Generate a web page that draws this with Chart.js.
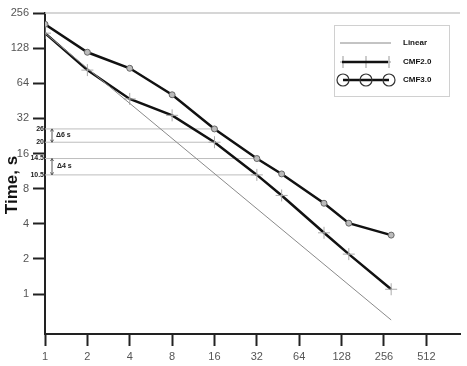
<!DOCTYPE html>
<html>
<head>
<meta charset="utf-8">
<script src="https://cdn.jsdelivr.net/npm/chart.js@4.4.1/dist/chart.umd.min.js"></script>
<style>
html, body { margin: 0; padding: 0; background: #fff; }
#wrap { width: 467px; height: 366px; }
</style>
</head>
<body>
<div id="wrap"><canvas id="myChart"></canvas></div>
<script>
"use strict";

// number of cores (x) and run times in seconds (y)
var cores = [1, 2, 4, 8, 16, 32, 48, 96, 144, 288];
var cmf2 = [172, 83, 47, 34, 20, 10.5, 7, 3.35, 2.2, 1.1];
var cmf3 = [205, 118, 86, 51, 26, 14.5, 10.7, 6, 4.05, 3.2];
var linearX = [1, 288];
var linearY = [172, 0.6];

var xTicks = [1, 2, 4, 8, 16, 32, 64, 128, 256, 512];
var yTicks = [1, 2, 4, 8, 16, 32, 64, 128, 256];

// helper lines for the time differences
var markLevels = [26, 20, 14.5, 10.5];
var markAt = [16, 16, 32, 32];
var deltaLabels = ["\u03946 s", "\u03944 s"];

var FONT = "'Liberation Sans', Arial, sans-serif";

function toPoints(xs, ys) {
    return xs.map(function(x, i){ return { x: x, y: ys[i] }; });
}

var extras = {
    id: 'extras',
    beforeDatasetsDraw: function(chart) {
        var ctx = chart.ctx, a = chart.chartArea;
        var sx = chart.scales.x, sy = chart.scales.y;
        ctx.save();
        // top frame line
        ctx.strokeStyle = '#c8c8c8';
        ctx.lineWidth = 1.5;
        ctx.beginPath();
        ctx.moveTo(a.left, a.top);
        ctx.lineTo(a.right, a.top);
        ctx.stroke();

        // level lines and their labels
        ctx.lineWidth = 1;
        ctx.strokeStyle = '#bdbdbd';
        ctx.fillStyle = '#222';
        ctx.font = 'bold 7px ' + FONT;
        ctx.textAlign = 'right';
        ctx.textBaseline = 'middle';
        markLevels.forEach(function(v, i){
            var y = sy.getPixelForValue(v);
            ctx.beginPath();
            ctx.moveTo(a.left, y);
            ctx.lineTo(sx.getPixelForValue(markAt[i]), y);
            ctx.stroke();
            ctx.fillText(String(v), a.left - 1, y);
        });

        // delta arrows
        ctx.strokeStyle = '#555';
        ctx.textAlign = 'left';
        for (var k = 0; k < 2; k++) {
            var y0 = sy.getPixelForValue(markLevels[k * 2]);
            var y1 = sy.getPixelForValue(markLevels[k * 2 + 1]);
            var ax = a.left + 7;
            ctx.beginPath();
            ctx.moveTo(ax, y0);
            ctx.lineTo(ax, y1);
            ctx.moveTo(ax - 1.5, y0 + 2.5); ctx.lineTo(ax, y0); ctx.lineTo(ax + 1.5, y0 + 2.5);
            ctx.moveTo(ax - 1.5, y1 - 2.5); ctx.lineTo(ax, y1); ctx.lineTo(ax + 1.5, y1 - 2.5);
            ctx.stroke();
            ctx.fillText(deltaLabels[k], ax + 4 + k, (y0 + y1) / 2 - 1);
        }

        // y axis title, a bit below the middle like the original
        ctx.translate(12, 185);
        ctx.rotate(-Math.PI / 2);
        ctx.textAlign = 'center';
        ctx.fillStyle = '#111';
        ctx.font = 'bold 17px ' + FONT;
        ctx.fillText('Time, s', 0, 0);
        ctx.restore();
    },
    afterDraw: function(chart) {
        var ctx = chart.ctx, a = chart.chartArea;
        var bx = a.right - 126, by = a.top + 12;
        ctx.save();
        ctx.fillStyle = '#fff';
        ctx.strokeStyle = '#d0d0d0';
        ctx.lineWidth = 1;
        ctx.fillRect(bx, by, 115, 71);
        ctx.strokeRect(bx + 0.5, by + 0.5, 115, 71);

        var x0 = bx + 6, x1 = bx + 57;
        var rows = [by + 18, by + 37, by + 55];
        ctx.lineCap = 'butt';

        // Linear
        ctx.strokeStyle = '#888';
        ctx.lineWidth = 1;
        ctx.beginPath(); ctx.moveTo(x0, rows[0]); ctx.lineTo(x1, rows[0]); ctx.stroke();

        // CMF2.0
        ctx.strokeStyle = '#999';
        ctx.beginPath();
        [x0 + 3, x0 + 26, x0 + 49].forEach(function(px){
            ctx.moveTo(px, rows[1] - 6); ctx.lineTo(px, rows[1] + 6);
        });
        ctx.moveTo(x0, rows[1]); ctx.lineTo(x1, rows[1]);
        ctx.stroke();
        ctx.strokeStyle = '#111';
        ctx.lineWidth = 2.5;
        ctx.beginPath(); ctx.moveTo(x0 + 2, rows[1]); ctx.lineTo(x1 - 3, rows[1]); ctx.stroke();

        // CMF3.0
        ctx.lineWidth = 2.5;
        ctx.beginPath(); ctx.moveTo(x0 + 3, rows[2]); ctx.lineTo(x0 + 49, rows[2]); ctx.stroke();
        ctx.strokeStyle = '#333';
        ctx.lineWidth = 1.2;
        [x0 + 3, x0 + 26, x0 + 49].forEach(function(px){
            ctx.beginPath(); ctx.arc(px, rows[2], 6, 0, Math.PI * 2); ctx.stroke();
        });

        ctx.fillStyle = '#111';
        ctx.font = 'bold 8px ' + FONT;
        ctx.textAlign = 'left';
        ctx.textBaseline = 'middle';
        ctx.fillText('Linear', bx + 69, rows[0]);
        ctx.fillText('CMF2.0', bx + 69, rows[1]);
        ctx.fillText('CMF3.0', bx + 69, rows[2]);
        ctx.restore();
    }
};

var axisCommon = {
    type: 'logarithmic',
    border: { display: true, color: '#222', width: 2 },
    grid: { drawOnChartArea: false, drawTicks: true, tickLength: 12, tickWidth: 2, tickColor: '#222' }
};

var myChart = document.getElementById('myChart').getContext('2d');
var chart = new Chart(myChart, {
    type: 'line',
    data: {
        datasets: [{
            label: 'Linear',
            data: toPoints(linearX, linearY),
            borderColor: '#8a8a8a',
            borderWidth: 1,
            pointRadius: 0
        },
        {
            label: 'CMF2.0',
            data: toPoints(cores, cmf2),
            borderColor: '#111',
            borderWidth: 2.5,
            pointStyle: 'cross',
            pointRadius: 6,
            pointBorderColor: '#aaa',
            pointBorderWidth: 1
        },
        {
            label: 'CMF3.0',
            data: toPoints(cores, cmf3),
            borderColor: '#111',
            borderWidth: 2.5,
            pointStyle: 'circle',
            pointRadius: 3,
            pointBackgroundColor: '#bbb',
            pointBorderColor: '#666',
            pointBorderWidth: 1
        }]
    },
    plugins: [extras],
    options: {
        responsive: true,
        maintainAspectRatio: false,
        animation: false,
        layout: { padding: { top: 13, right: 0, left: 0, bottom: 0 } },
        plugins: { legend: { display: false }, tooltip: { enabled: false } },
        scales: {
            x: Object.assign({}, axisCommon, {
                min: 1,
                max: 888,
                afterBuildTicks: function(s){ s.ticks = xTicks.map(function(v){ return { value: v }; }); },
                afterFit: function(s){ s.height = 32; },
                ticks: {
                    autoSkip: false, maxRotation: 0, padding: 4,
                    color: '#555', font: { family: FONT, size: 11 },
                    callback: function(v){ return String(v); }
                }
            }),
            y: Object.assign({}, axisCommon, {
                min: 0.455,
                max: 256,
                afterBuildTicks: function(s){ s.ticks = yTicks.map(function(v){ return { value: v }; }); },
                afterFit: function(s){ s.width = 45; },
                ticks: {
                    autoSkip: false, padding: 4,
                    color: '#555', font: { family: FONT, size: 11 },
                    callback: function(v){ return String(v); }
                }
            })
        }
    }
});
</script>
</body>
</html>
